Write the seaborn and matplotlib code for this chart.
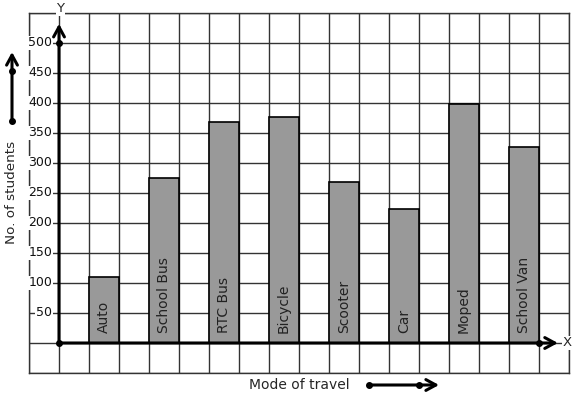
import matplotlib
matplotlib.use("Agg")
import matplotlib.pyplot as plt
import seaborn as sns
import pandas as pd

modes = ["Auto", "School Bus", "RTC Bus", "Bicycle", "Scooter", "Car", "Moped", "School Van"]
students = [110, 275, 368, 376, 268, 223, 398, 326]
ytick_vals = [50, 100, 150, 200, 250, 300, 350, 400, 450, 500]

sns.set_theme(style="white")
plt.rcParams['font.family'] = ['DejaVu Sans']

fig = plt.figure(figsize=(5.77, 3.99), dpi=100)
ax = fig.add_axes([29/577, (399-373)/399, 540/577, 360/399])

pos = [1.5 + 2*i for i in range(len(modes))]
df = pd.DataFrame({"pos": pos, "students": students, "mode": modes})
sns.barplot(data=df, x="pos", y="students", native_scale=True, width=0.5,
            orient="x", color="#999999", edgecolor="black", linewidth=1.2,
            saturation=1, ax=ax, zorder=2)

ax.set_xlim(-1, 17)
ax.set_ylim(-50, 550)
ax.set_xticks(range(-1, 18))
ax.set_yticks(range(-50, 551, 50))
ax.set_xticklabels([])
ax.set_yticklabels([])
ax.tick_params(length=0)
ax.set_xlabel("")
ax.set_ylabel("")
ax.grid(True, color="#333333", linewidth=1.0)
ax.set_axisbelow(True)
for s in ax.spines.values():
    s.set_visible(True)
    s.set_color("#333333")
    s.set_linewidth(1.0)

# tick labels
for v in ytick_vals:
    ax.text(-0.23, v, str(v), ha="right", va="center", fontsize=9, color="#111111",
            bbox=dict(facecolor="white", edgecolor="none", pad=0.5), zorder=3)

# bar labels
for p, m in zip(pos, modes):
    ax.text(p, 17, m, rotation=90, ha="center", va="bottom", fontsize=10, color="#222222", zorder=4)

arrow = dict(arrowstyle="->,head_length=0.55,head_width=0.3", lw=2.2, color="black",
             mutation_scale=13, shrinkA=0, shrinkB=0)

# axes lines with arrows
ax.annotate("", xy=(0, 532), xytext=(0, 0), arrowprops=arrow, zorder=5)
ax.annotate("", xy=(16.63, 0), xytext=(0, 0), arrowprops=arrow, zorder=5)
ax.plot([0, 0, 16], [0, 500, 0], "o", color="black", markersize=4, zorder=6, clip_on=False)
ax.text(0.05, 557, "Y", ha="center", va="center", fontsize=9.5,
        bbox=dict(facecolor="white", edgecolor="none", pad=0.5), zorder=6, clip_on=False)
ax.text(16.95, 0, "X", ha="center", va="center", fontsize=9.5,
        bbox=dict(facecolor="white", edgecolor="none", pad=0.5), zorder=6, clip_on=False)

# outer labels and arrows
fig.text(12/577, (399-192)/399, "No. of students", rotation=90, ha="center", va="center", fontsize=9.7)
fig.text(299/577, 14/399, "Mode of travel", ha="center", va="center", fontsize=10)
ax.annotate("", xy=(12, 347), xycoords="figure pixels", xytext=(12, 278), textcoords="figure pixels",
            arrowprops=arrow)
ax.annotate("", xy=(439, 14), xycoords="figure pixels", xytext=(369, 14), textcoords="figure pixels",
            arrowprops=arrow)
fig.add_artist(plt.Line2D([12/577, 12/577], [278/399, 328/399], marker="o", linestyle="none",
                          color="black", markersize=4, transform=fig.transFigure))
fig.add_artist(plt.Line2D([369/577, 419/577], [14/399, 14/399], marker="o", linestyle="none",
                          color="black", markersize=4, transform=fig.transFigure))

fig.savefig("out.png", dpi=100)
